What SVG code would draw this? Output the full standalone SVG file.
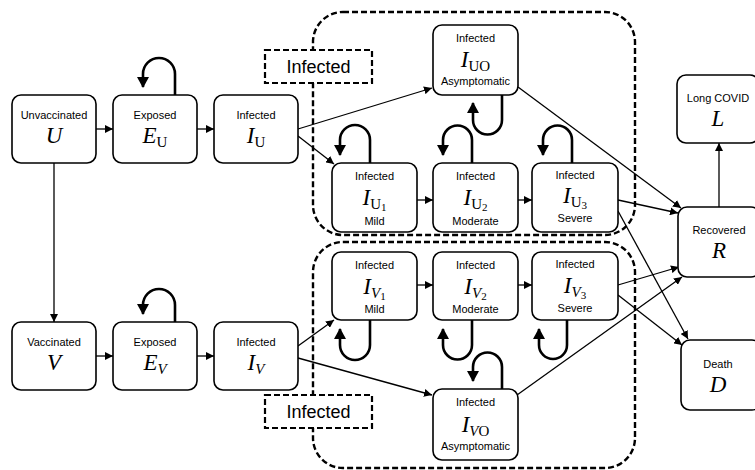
<svg xmlns="http://www.w3.org/2000/svg" width="755" height="470" viewBox="0 0 755 470">
<defs>
<style>
.box{fill:#fff;stroke:#000;stroke-width:1.6}
.lbl{font-family:"Liberation Sans",Arial,sans-serif;font-size:11px;text-anchor:middle;fill:#000}
.math{font-family:"Liberation Serif","Times New Roman",serif;font-style:italic;font-size:23px;text-anchor:middle;fill:#000}
.up{font-style:normal}
.cont{fill:none;stroke:#000;stroke-width:2.4;stroke-dasharray:6,3}
.tag{fill:#fff;stroke:#000;stroke-width:2.2;stroke-dasharray:6,3}
.tagt{font-family:"Liberation Sans",Arial,sans-serif;font-size:18px;text-anchor:middle;fill:#000}
.ln{fill:none;stroke:#000;stroke-width:1.3;marker-end:url(#ah)}
.loop{fill:none;stroke:#000;stroke-width:2.6;marker-end:url(#lh)}
</style>
<marker id="ah" markerUnits="userSpaceOnUse" markerWidth="9" markerHeight="8" refX="8" refY="4" orient="auto">
<path d="M0,0 L8,4 L0,8 Z" fill="#000"/>
</marker>
<marker id="lh" markerUnits="userSpaceOnUse" markerWidth="12" markerHeight="12" refX="10" refY="6" orient="auto">
<path d="M0,0 L11,6 L0,12 Z" fill="#000"/>
</marker>
</defs>
<rect width="755" height="470" fill="#fff"/>

<g id="containers">
<rect class="cont" x="313" y="12" width="322" height="223" rx="30"/>
<rect class="cont" x="313" y="242" width="322" height="226" rx="30"/>
</g>

<g id="connectors">
<line class="ln" x1="96" y1="129" x2="113" y2="129"/>
<line class="ln" x1="197" y1="129" x2="214" y2="129"/>
<line class="ln" x1="54" y1="163" x2="54" y2="322"/>
<line class="ln" x1="96" y1="356" x2="113" y2="356"/>
<line class="ln" x1="197" y1="356" x2="214" y2="356"/>
<line class="ln" x1="298" y1="129" x2="432" y2="88"/>
<line class="ln" x1="298" y1="136" x2="334" y2="164"/>
<line class="ln" x1="298" y1="346" x2="334" y2="320"/>
<line class="ln" x1="298" y1="358" x2="432" y2="395"/>
<line class="ln" x1="417" y1="200" x2="433" y2="200"/>
<line class="ln" x1="518" y1="200" x2="532" y2="200"/>
<line class="ln" x1="417" y1="285" x2="433" y2="285"/>
<line class="ln" x1="518" y1="285" x2="532" y2="285"/>
<line class="ln" x1="518" y1="87" x2="681" y2="208"/>
<line class="ln" x1="618" y1="200" x2="678" y2="213"/>
<line class="ln" x1="618" y1="211" x2="688" y2="339"/>
<line class="ln" x1="618" y1="285" x2="679" y2="267"/>
<line class="ln" x1="618" y1="295" x2="682" y2="345"/>
<line class="ln" x1="517" y1="395" x2="682" y2="277"/>
<line class="ln" x1="719" y1="207" x2="719" y2="143"/>
<path class="loop" d="M175,95 V74 A16,16 0 0 0 143,74 V87"/>
<path class="loop" d="M175,322 V305 A16,16 0 0 0 143,305 V314"/>
<path class="loop" d="M502,95 V120 A14.5,14.5 0 0 1 473,120 V103"/>
<path class="loop" d="M370,163 V140 A15,15 0 0 0 340,140 V155"/>
<path class="loop" d="M472,163 V140 A14.5,14.5 0 0 0 443,140 V155"/>
<path class="loop" d="M572,163 V140 A14.5,14.5 0 0 0 543,140 V155"/>
<path class="loop" d="M370,320 V345 A15,15 0 0 1 340,345 V329"/>
<path class="loop" d="M472,320 V345 A14.5,14.5 0 0 1 443,345 V329"/>
<path class="loop" d="M567,320 V345 A14,14 0 0 1 539,345 V329"/>
<path class="loop" d="M502,389 V367 A14.5,14.5 0 0 0 473,367 V381"/>
</g>

<g id="tag-upper">
<rect class="tag" x="265" y="50" width="107" height="33"/>
<text class="tagt" x="318.5" y="73">Infected</text>
</g>
<g id="tag-lower">
<rect class="tag" x="265" y="395" width="107" height="33"/>
<text class="tagt" x="318.5" y="418">Infected</text>
</g>

<g id="node-U">
<rect class="box" x="12" y="95" width="84" height="68" rx="9"/>
<text class="lbl" x="54" y="119">Unvaccinated</text>
<text class="math" x="54" y="143">U</text>
</g>
<g id="node-EU">
<rect class="box" x="113" y="95" width="84" height="68" rx="9"/>
<text class="lbl" x="155" y="119">Exposed</text>
<text class="math" x="155" y="143">E<tspan class="up" font-size="15" dy="4">U</tspan></text>
</g>
<g id="node-IU">
<rect class="box" x="214" y="95" width="84" height="68" rx="9"/>
<text class="lbl" x="256" y="119">Infected</text>
<text class="math" x="256" y="143">I<tspan class="up" font-size="15" dy="4">U</tspan></text>
</g>
<g id="node-V">
<rect class="box" x="12" y="322" width="84" height="68" rx="9"/>
<text class="lbl" x="54" y="346">Vaccinated</text>
<text class="math" x="54" y="370">V</text>
</g>
<g id="node-EV">
<rect class="box" x="113" y="322" width="84" height="68" rx="9"/>
<text class="lbl" x="155" y="346">Exposed</text>
<text class="math" x="155" y="370">E<tspan font-size="15" dy="4">V</tspan></text>
</g>
<g id="node-IV">
<rect class="box" x="214" y="322" width="84" height="68" rx="9"/>
<text class="lbl" x="256" y="346">Infected</text>
<text class="math" x="256" y="370">I<tspan font-size="15" dy="4">V</tspan></text>
</g>

<g id="node-IUO">
<rect class="box" x="433" y="25" width="85" height="70" rx="9"/>
<text class="lbl" x="475.5" y="42">Infected</text>
<text class="math" x="475.5" y="67">I<tspan class="up" font-size="15" dy="4">UO</tspan></text>
<text class="lbl" x="475.5" y="85">Asymptomatic</text>
</g>
<g id="node-IU1">
<rect class="box" x="332" y="163" width="85" height="69" rx="9"/>
<text class="lbl" x="374.5" y="180">Infected</text>
<text class="math" x="374.5" y="205">I<tspan class="up" font-size="15" dy="4">U</tspan><tspan class="up" font-size="11" dy="2">1</tspan></text>
<text class="lbl" x="374.5" y="225">Mild</text>
</g>
<g id="node-IU2">
<rect class="box" x="433" y="163" width="85" height="69" rx="9"/>
<text class="lbl" x="475.5" y="180">Infected</text>
<text class="math" x="475.5" y="205">I<tspan class="up" font-size="15" dy="4">U</tspan><tspan class="up" font-size="11" dy="2">2</tspan></text>
<text class="lbl" x="475.5" y="225">Moderate</text>
</g>
<g id="node-IU3">
<rect class="box" x="532" y="163" width="86" height="69" rx="9"/>
<text class="lbl" x="575" y="179">Infected</text>
<text class="math" x="575" y="203">I<tspan class="up" font-size="15" dy="4">U</tspan><tspan class="up" font-size="11" dy="2">3</tspan></text>
<text class="lbl" x="575" y="222">Severe</text>
</g>

<g id="node-IV1">
<rect class="box" x="332" y="252" width="85" height="68" rx="9"/>
<text class="lbl" x="374.5" y="269">Infected</text>
<text class="math" x="374.5" y="294">I<tspan font-size="15" dy="4">V</tspan><tspan class="up" font-size="11" dy="2">1</tspan></text>
<text class="lbl" x="374.5" y="313">Mild</text>
</g>
<g id="node-IV2">
<rect class="box" x="433" y="252" width="85" height="68" rx="9"/>
<text class="lbl" x="475.5" y="269">Infected</text>
<text class="math" x="475.5" y="294">I<tspan font-size="15" dy="4">V</tspan><tspan class="up" font-size="11" dy="2">2</tspan></text>
<text class="lbl" x="475.5" y="313">Moderate</text>
</g>
<g id="node-IV3">
<rect class="box" x="532" y="252" width="86" height="68" rx="9"/>
<text class="lbl" x="575" y="268">Infected</text>
<text class="math" x="575" y="293">I<tspan font-size="15" dy="4">V</tspan><tspan class="up" font-size="11" dy="2">3</tspan></text>
<text class="lbl" x="575" y="312">Severe</text>
</g>
<g id="node-IVO">
<rect class="box" x="433" y="389" width="85" height="71" rx="9"/>
<text class="lbl" x="475.5" y="406">Infected</text>
<text class="math" x="475.5" y="432">I<tspan font-size="15" dy="4">V</tspan><tspan class="up" font-size="15">O</tspan></text>
<text class="lbl" x="475.5" y="450">Asymptomatic</text>
</g>

<g id="node-L">
<rect class="box" x="677" y="75" width="82" height="68" rx="9"/>
<text class="lbl" x="718" y="102">Long COVID</text>
<text class="math" x="718" y="126">L</text>
</g>
<g id="node-R">
<rect class="box" x="678" y="207" width="82" height="70" rx="9"/>
<text class="lbl" x="719" y="234">Recovered</text>
<text class="math" x="719" y="258">R</text>
</g>
<g id="node-D">
<rect class="box" x="681" y="340" width="80" height="70" rx="9"/>
<text class="lbl" x="718" y="368">Death</text>
<text class="math" x="718" y="392">D</text>
</g>
</svg>
